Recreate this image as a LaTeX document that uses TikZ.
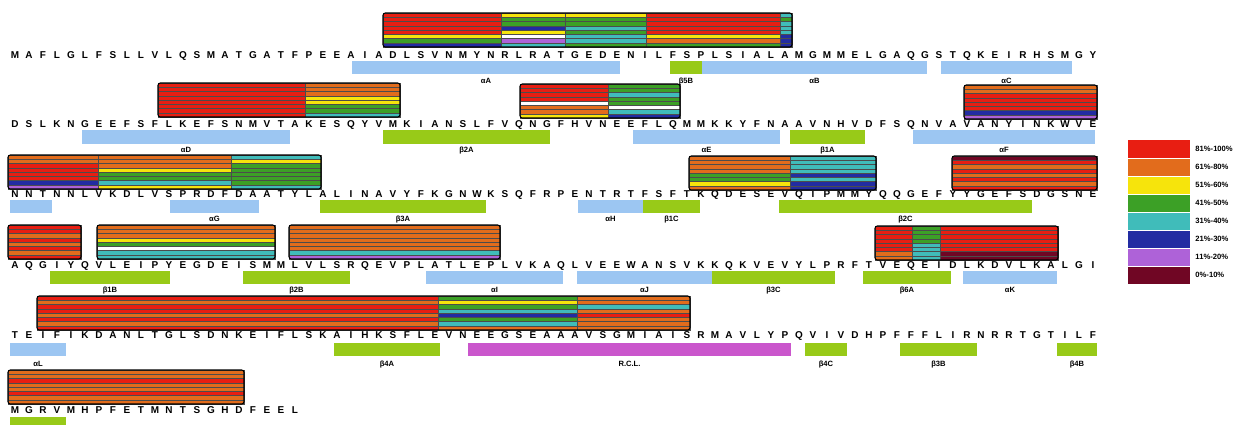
\documentclass[tikz,border=0pt]{standalone}
\usepackage{fontspec}
\setmainfont{Liberation Sans}
\usepackage{xcolor}
\usepackage{tikz}
\usetikzlibrary{positioning}
% conservation classes
\definecolor{pcA}{RGB}{232, 30, 18}
\definecolor{pcB}{RGB}{226, 108, 28}
\definecolor{pcC}{RGB}{246, 228, 12}
\definecolor{pcD}{RGB}{60, 160, 38}
\definecolor{pcE}{RGB}{64, 188, 186}
\definecolor{pcF}{RGB}{34, 44, 162}
\definecolor{pcG}{RGB}{174, 98, 216}
\definecolor{pcH}{RGB}{112, 6, 36}
\definecolor{helixblue}{RGB}{156, 198, 242}
\definecolor{strandgreen}{RGB}{152, 202, 24}
\definecolor{rclpink}{RGB}{202, 86, 204}
\colorlet{sR}{pcA}
\colorlet{sO}{pcB}
\colorlet{sY}{pcC}
\colorlet{sG}{pcD}
\colorlet{sC}{pcE}
\colorlet{sB}{pcF}
\colorlet{sM}{pcG}
\colorlet{sK}{pcH}
\colorlet{sW}{white}
\tikzset{
  res/.style={font=\fontsize{8.5}{9}\selectfont\bfseries, inner sep=0pt, anchor=base},
  stripe/.style={draw=black!70, line width=0.35pt},
  consframe/.style={draw=black, line width=0.9pt, rounded corners=2pt},
  span/.style={minimum width=#1*0.03cm},
  helix/.style={fill=helixblue, minimum height=0.39cm, inner sep=0pt},
  strand/.style={fill=strandgreen, minimum height=0.39cm, inner sep=0pt},
  rcl/.style={fill=rclpink, minimum height=0.39cm, inner sep=0pt},
  sslab/.style={font=\fontsize{6.5}{7}\selectfont\bfseries, inner sep=0pt},
  legbox/.style={minimum width=1.86cm, minimum height=0.51cm, inner sep=0pt},
  legtxt/.style={font=\fontsize{6.5}{7}\selectfont\bfseries, inner sep=0pt, anchor=west},
}
% one residue row
\newcommand{\seqrow}[3]{%
  \foreach \aa [count=\i] in {#3}
    \node[res] (#1-\i) at ({15+(\i-1)*14},#2) {\aa};
}
% striped block of a conservation box: x1, x2, top, colours top to bottom
\newcommand{\consseg}[4]{%
  \foreach \col [count=\k] in {#4}
    \filldraw[stripe, fill=\col] (#1,{#3+(\k-1)*4.25}) rectangle (#2,{#3+\k*4.25});
}

\begin{document}
\begin{tikzpicture}[x=0.03cm, y=-0.03cm]
\fill[white] (0,0) rectangle (1243,425);
\useasboundingbox (0,0) rectangle (1243,425);

% sequence
\seqrow{ra}{59}{M,A,F,L,G,L,F,S,L,L,V,L,Q,S,M,A,T,G,A,T,F,P,E,E,A,I,A,D,L,S,V,N,M,Y,N,R,L,R,A,T,G,E,D,E,N,I,L,F,S,P,L,S,I,A,L,A,M,G,M,M,E,L,G,A,Q,G,S,T,Q,K,E,I,R,H,S,M,G,Y}
\seqrow{rb}{128}{D,S,L,K,N,G,E,E,F,S,F,L,K,E,F,S,N,M,V,T,A,K,E,S,Q,Y,V,M,K,I,A,N,S,L,F,V,Q,N,G,F,H,V,N,E,E,F,L,Q,M,M,K,K,Y,F,N,A,A,V,N,H,V,D,F,S,Q,N,V,A,V,A,N,Y,I,N,K,W,V,E}
\seqrow{rc}{197}{N,N,T,N,N,L,V,K,D,L,V,S,P,R,D,F,D,A,A,T,Y,L,A,L,I,N,A,V,Y,F,K,G,N,W,K,S,Q,F,R,P,E,N,T,R,T,F,S,F,T,K,Q,D,E,S,E,V,Q,I,P,M,M,Y,Q,Q,G,E,F,Y,Y,G,E,F,S,D,G,S,N,E}
\seqrow{rd}{268}{A,Q,G,I,Y,Q,V,L,E,I,P,Y,E,G,D,E,I,S,M,M,L,V,L,S,R,Q,E,V,P,L,A,T,L,E,P,L,V,K,A,Q,L,V,E,E,W,A,N,S,V,K,K,Q,K,V,E,V,Y,L,P,R,F,T,V,E,Q,E,I,D,L,K,D,V,L,K,A,L,G,I}
\seqrow{re}{338}{T,E,I,F,I,K,D,A,N,L,T,G,L,S,D,N,K,E,I,F,L,S,K,A,I,H,K,S,F,L,E,V,N,E,E,G,S,E,A,A,A,V,S,G,M,I,A,I,S,R,M,A,V,L,Y,P,Q,V,I,V,D,H,P,F,F,F,L,I,R,N,R,R,T,G,T,I,L,F}
\seqrow{rf}{413}{M,G,R,V,M,H,P,F,E,T,M,N,T,S,G,H,D,F,E,E,L}

% conservation boxes
\consseg{383}{501}{13}{sR,sR,sR,sR,sR,sY,sG,sB}
\consseg{501}{565}{13}{sY,sG,sG,sB,sY,sW,sM,sC}
\consseg{565}{646}{13}{sY,sG,sG,sC,sG,sC,sC,sG}
\consseg{646}{780}{13}{sR,sR,sR,sR,sR,sY,sO,sG}
\consseg{780}{792}{13}{sC,sG,sC,sC,sC,sB,sB,sB}
\draw[consframe] (383,13) rectangle (792,47);

\consseg{158}{305}{83}{sR,sR,sR,sR,sR,sR,sR,sR}
\consseg{305}{400}{83}{sO,sO,sO,sY,sY,sG,sG,sC}
\draw[consframe] (158,83) rectangle (400,117);
\consseg{520}{608}{84}{sR,sR,sR,sR,sW,sO,sO,sY}
\consseg{608}{680}{84}{sG,sG,sC,sG,sG,sW,sC,sB}
\draw[consframe] (520,84) rectangle (680,118);
\consseg{964}{1097}{85}{sO,sO,sR,sR,sR,sR,sB,sM}
\draw[consframe] (964,85) rectangle (1097,119);

\consseg{8}{98}{155}{sO,sO,sR,sR,sR,sR,sB,sM}
\consseg{98}{231}{155}{sO,sO,sO,sY,sG,sG,sC,sY}
\consseg{231}{321}{155}{sC,sY,sG,sG,sG,sG,sG,sC}
\draw[consframe] (8,155) rectangle (321,189);
\consseg{689}{790}{156}{sO,sO,sO,sO,sG,sG,sY,sO}
\consseg{790}{876}{156}{sC,sC,sC,sC,sB,sC,sB,sB}
\draw[consframe] (689,156) rectangle (876,190);
\consseg{952}{1097}{156}{sK,sR,sO,sR,sO,sR,sO,sR}
\draw[consframe] (952,156) rectangle (1097,190);

\consseg{8}{81}{225}{sR,sR,sO,sR,sO,sR,sO,sR}
\draw[consframe] (8,225) rectangle (81,259);
\consseg{97}{275}{225}{sO,sO,sO,sY,sG,sW,sC,sC}
\draw[consframe] (97,225) rectangle (275,259);
\consseg{289}{500}{225}{sO,sO,sO,sO,sO,sO,sC,sM}
\draw[consframe] (289,225) rectangle (500,259);
\consseg{875}{912}{226}{sR,sR,sR,sR,sR,sR,sO,sO}
\consseg{912}{940}{226}{sG,sG,sG,sG,sC,sC,sC,sC}
\consseg{940}{1058}{226}{sR,sR,sR,sR,sR,sR,sK,sK}
\draw[consframe] (875,226) rectangle (1058,260);

\consseg{37}{438}{296}{sR,sO,sR,sR,sO,sR,sO,sR}
\consseg{438}{577}{296}{sG,sY,sG,sC,sB,sG,sC,sO}
\consseg{577}{690}{296}{sO,sO,sC,sO,sR,sO,sO,sO}
\draw[consframe] (37,296) rectangle (690,330);

\consseg{8}{244}{370}{sO,sO,sR,sO,sO,sR,sO,sO}
\draw[consframe] (8,370) rectangle (244,404);

% secondary structure
\node[helix, span=268] (aA) at (486,68) {};
\node[strand, span=32] (b5B) at (686,68) {};
\node[helix, span=225] (aB) at (814.5,68) {};
\node[helix, span=131] (aC) at (1006.5,68) {};
\node[sslab, below=0.1cm of aA] (aA-t) {αA};
\node[sslab, below=0.1cm of b5B] (b5B-t) {β5B};
\node[sslab, below=0.1cm of aB] (aB-t) {αB};
\node[sslab, below=0.1cm of aC] (aC-t) {αC};

\node[helix, span=208] (aD) at (186,137) {};
\node[strand, span=167] (b2A) at (466.5,137) {};
\node[helix, span=147] (aE) at (706.5,137) {};
\node[strand, span=75] (b1A) at (827.5,137) {};
\node[helix, span=182] (aF) at (1004,137) {};
\node[sslab, below=0.1cm of aD] (aD-t) {αD};
\node[sslab, below=0.1cm of b2A] (b2A-t) {β2A};
\node[sslab, below=0.1cm of aE] (aE-t) {αE};
\node[sslab, below=0.1cm of b1A] (b1A-t) {β1A};
\node[sslab, below=0.1cm of aF] (aF-t) {αF};

\node[helix, span=42] (a0) at (31,206) {};
\node[helix, span=89] (aG) at (214.5,206) {};
\node[strand, span=166] (b3A) at (403,206) {};
\node[helix, span=65] (aH) at (610.5,206) {};
\node[strand, span=57] (b1C) at (671.5,206) {};
\node[strand, span=253] (b2C) at (905.5,206) {};
\node[sslab, below=0.1cm of aG] (aG-t) {αG};
\node[sslab, below=0.1cm of b3A] (b3A-t) {β3A};
\node[sslab, below=0.1cm of aH] (aH-t) {αH};
\node[sslab, below=0.1cm of b1C] (b1C-t) {β1C};
\node[sslab, below=0.1cm of b2C] (b2C-t) {β2C};

\node[strand, span=120] (b1B) at (110,277) {};
\node[strand, span=107] (b2B) at (296.5,277) {};
\node[helix, span=137] (aI) at (494.5,277) {};
\node[helix, span=135] (aJ) at (644.5,277) {};
\node[strand, span=123] (b3C) at (773.5,277) {};
\node[strand, span=88] (b6A) at (907,277) {};
\node[helix, span=94] (aK) at (1010,277) {};
\node[sslab, below=0.1cm of b1B] (b1B-t) {β1B};
\node[sslab, below=0.1cm of b2B] (b2B-t) {β2B};
\node[sslab, below=0.1cm of aI] (aI-t) {αI};
\node[sslab, below=0.1cm of aJ] (aJ-t) {αJ};
\node[sslab, below=0.1cm of b3C] (b3C-t) {β3C};
\node[sslab, below=0.1cm of b6A] (b6A-t) {β6A};
\node[sslab, below=0.1cm of aK] (aK-t) {αK};

\node[helix, span=56] (aL) at (38,349) {};
\node[strand, span=106] (b4A) at (387,349) {};
\node[rcl, span=323] (rclA) at (629.5,349) {};
\node[strand, span=42] (b4C) at (826,349) {};
\node[strand, span=77] (b3B) at (938.5,349) {};
\node[strand, span=40] (b4B) at (1077,349) {};
\node[sslab, below=0.15cm of aL] (aL-t) {αL};
\node[sslab, below=0.15cm of b4A] (b4A-t) {β4A};
\node[sslab, below=0.15cm of rclA] (rclA-t) {R.C.L.};
\node[sslab, below=0.15cm of b4C] (b4C-t) {β4C};
\node[sslab, below=0.15cm of b3B] (b3B-t) {β3B};
\node[sslab, below=0.15cm of b4B] (b4B-t) {β4B};

\node[strand, span=56] (bZ) at (38,423) {};

% legend
\foreach \col/\txt [count=\k] in {pcA/81\%-100\%, pcB/61\%-80\%, pcC/51\%-60\%, pcD/41\%-50\%,
    pcE/31\%-40\%, pcF/21\%-30\%, pcG/11\%-20\%, pcH/0\%-10\%} {
  \node[legbox, fill=\col] (key\k) at (1159,{149+(\k-1)*18}) {};
  \node[legtxt, right=0.15cm of key\k] (keyt\k) {\txt};
}

\end{tikzpicture}
\end{document}
